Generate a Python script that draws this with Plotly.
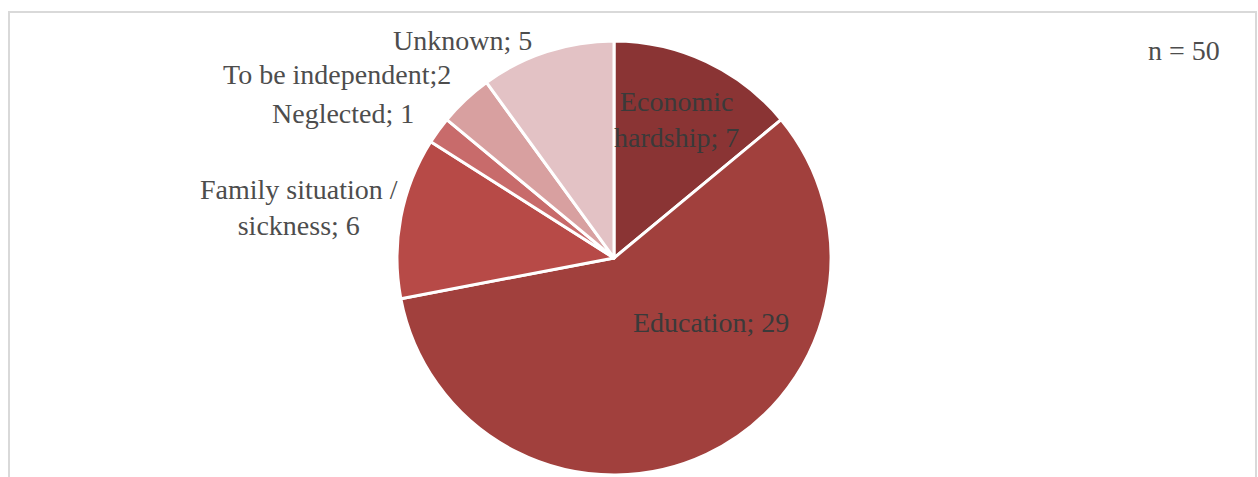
import plotly.graph_objects as go

categories = ["Economic hardship", "Education", "Family situation / sickness",
              "Neglected", "To be independent", "Unknown"]
values = [7, 29, 6, 1, 2, 5]
colors = ["#8a3434", "#a1403d", "#b74a47", "#c86b6b", "#d8a0a0", "#e3c2c5"]
label_texts = ["Economic<br>hardship; 7", "Education; 29", "Family situation /<br>sickness; 6",
               "Neglected; 1", "To be independent;2", "Unknown; 5"]
label_pos = [(676, 119), (711, 322), (299, 207), (343, 113), (337, 75), (462, 40)]
label_inside = [True, True, False, False, False, False]

W, H = 1258, 477
font = "Times New Roman, Liberation Serif, serif"

fig = go.Figure(go.Pie(
    labels=categories, values=values, sort=False, direction="clockwise", rotation=0,
    marker=dict(colors=colors, line=dict(color="white", width=3)),
    textinfo="none", hoverinfo="label+value",
    domain=dict(x=[397 / W, 831 / W], y=[1 - 475 / H, 1 - 41 / H]),
    showlegend=False,
))

annotations = []
for txt, (px, py), inside in zip(label_texts, label_pos, label_inside):
    annotations.append(dict(
        x=px / W, y=1 - py / H, xref="paper", yref="paper", text=txt, showarrow=False,
        font=dict(family=font, size=28, color="#3a3a3a" if inside else "#4d4d4d"),
        xanchor="center", yanchor="middle", align="center",
    ))
annotations.append(dict(
    x=1222 / W, y=1 - 50 / H, xref="paper", yref="paper", text="n = 50", showarrow=False,
    font=dict(family=font, size=28, color="#4d4d4d"), xanchor="right", yanchor="middle",
))

fig.update_layout(
    width=W, height=H, margin=dict(l=0, r=0, t=0, b=0),
    paper_bgcolor="white", plot_bgcolor="white",
    annotations=annotations,
    shapes=[dict(type="rect", xref="paper", yref="paper",
                 x0=9 / W, x1=1256 / W, y0=-0.02, y1=1 - 12 / H,
                 line=dict(color="#d9d9d9", width=2), layer="below")],
)

fig.write_html("out.html")
